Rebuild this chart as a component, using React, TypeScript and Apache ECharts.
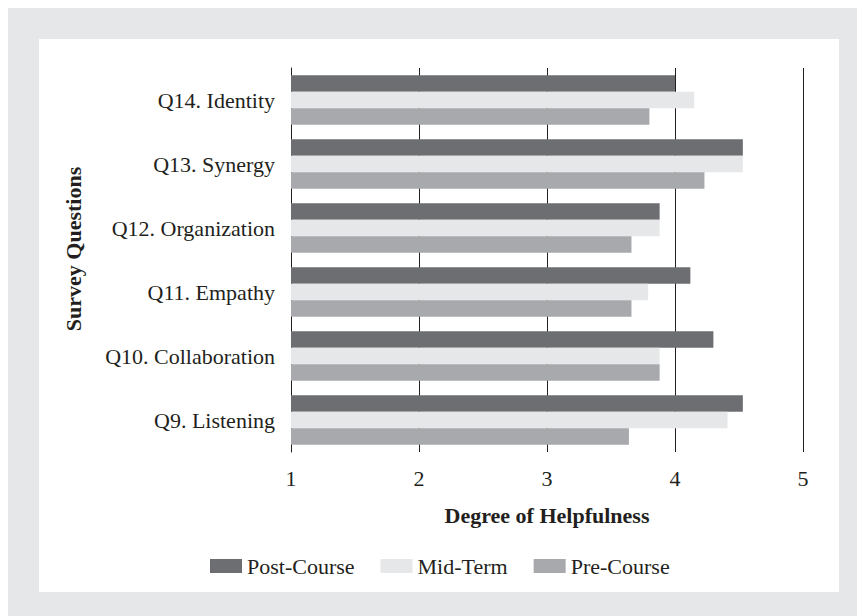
import React, { useEffect, useRef } from "react";
import * as echarts from "echarts";

const categories = [
  "Q9. Listening",
  "Q10. Collaboration",
  "Q11. Empathy",
  "Q12. Organization",
  "Q13. Synergy",
  "Q14. Identity",
];
const postCourse = [4.53, 4.3, 4.12, 3.88, 4.53, 4.0];
const midTerm = [4.41, 3.88, 3.79, 3.88, 4.53, 4.15];
const preCourse = [3.64, 3.88, 3.66, 3.66, 4.23, 3.8];
const xTicks = [1, 2, 3, 4, 5];
const yAxisTitle = "Survey Questions";

const FONT = "'Liberation Serif', 'Times New Roman', serif";

export default function App() {
  const ref = useRef<HTMLDivElement>(null);
  useEffect(() => {
    document.body.style.overflow = "hidden";
    const chart = echarts.init(ref.current!, null, { renderer: "svg" });
    const mk = (name: string, data: number[], color: string) => ({
      name,
      type: "bar",
      data,
      barGap: "0%",
      barCategoryGap: "23%",
      itemStyle: { color },
    });
    chart.setOption({
      animation: false,
      backgroundColor: "#e6e7e8",
      textStyle: { fontFamily: FONT },
      graphic: [
        {
          type: "rect",
          z: -10,
          silent: true,
          shape: { x: 31, y: 31, width: 800, height: 553 },
          style: { fill: "#ffffff" },
        },
        {
          type: "text",
          x: 65,
          y: 241,
          rotation: Math.PI / 2,
          silent: true,
          style: {
            text: yAxisTitle,
            fontFamily: FONT,
            fontSize: 22,
            fontWeight: "bold",
            fill: "#231f20",
            align: "center",
            verticalAlign: "middle",
          },
        },
      ],
      grid: { left: 283, top: 60, width: 512, height: 384 },
      legend: {
        left: 197,
        top: 542,
        itemWidth: 32,
        itemHeight: 14,
        itemGap: 26,
        icon: "rect",
        textStyle: { fontFamily: FONT, fontSize: 22, color: "#231f20" },
        data: ["Post-Course", "Mid-Term", "Pre-Course"],
      },
      xAxis: {
        type: "value",
        min: xTicks[0],
        max: xTicks[xTicks.length - 1],
        interval: 1,
        name: "Degree of Helpfulness",
        nameLocation: "middle",
        nameGap: 52,
        nameTextStyle: { fontFamily: FONT, fontSize: 22, fontWeight: "bold", color: "#231f20" },
        axisLine: { show: false },
        axisTick: { show: false },
        axisLabel: { fontFamily: FONT, fontSize: 22, color: "#231f20", margin: 15 },
        splitLine: { show: true, lineStyle: { color: "#231f20", width: 1 } },
      },
      yAxis: {
        type: "category",
        data: categories,
        axisLine: { show: true, lineStyle: { color: "#231f20", width: 1 } },
        axisTick: { show: false },
        axisLabel: { fontFamily: FONT, fontSize: 22, color: "#231f20", margin: 16 },
      },
      series: [
        mk("Post-Course", postCourse, "#6d6e71"),
        mk("Mid-Term", midTerm, "#e6e7e8"),
        mk("Pre-Course", preCourse, "#a7a9ac"),
      ],
    });
    return () => chart.dispose();
  }, []);
  return <div ref={ref} style={{ width: 857, height: 608 }} />;
}
